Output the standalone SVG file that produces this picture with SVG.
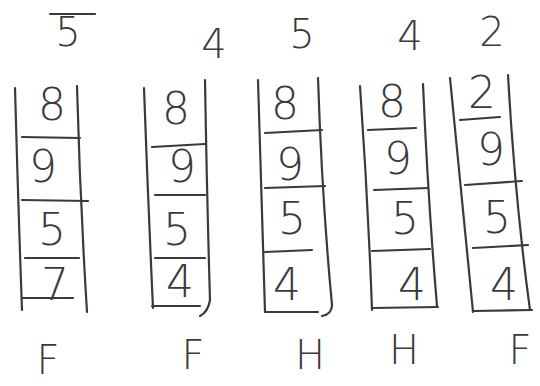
<svg xmlns="http://www.w3.org/2000/svg" width="540" height="386" viewBox="0 0 540 386">
<style>
.ln{fill:none;stroke:#3a3a3a;stroke-width:2.2;stroke-linecap:round;stroke-linejoin:round}
.t{font-family:"DejaVu Sans","Liberation Sans",sans-serif;font-weight:200;fill:#3a3a3a;text-anchor:middle}
.n{font-size:44px}
.h{font-size:40px}
</style>
<rect width="540" height="386" fill="#ffffff"/>
<g id="header">
<text class="t h" x="68" y="46">5</text>
<path class="ln" d="M50 14 L95 14"/>
<text class="t h" x="214" y="58">4</text>
<text class="t h" x="302" y="48">5</text>
<text class="t h" x="410" y="50">4</text>
<text class="t h" x="492" y="46">2</text>
</g>
<g id="frame1">
<path class="ln" d="M15 88 Q18 200 22 310"/>
<path class="ln" d="M77 86 Q80 200 87 312"/>
<path class="ln" d="M22 137 L80 138"/>
<path class="ln" d="M22 200 L88 201"/>
<path class="ln" d="M25 258 L79 258"/>
<path class="ln" d="M22 298 L73 298"/>
<text class="t n" x="52" y="120">8</text>
<text class="t n" x="43" y="182">9</text>
<text class="t n" x="52" y="245">5</text>
<text class="t n" x="55" y="300">7</text>
</g>
<g id="frame2">
<path class="ln" d="M144 88 Q148 200 153 308"/>
<path class="ln" d="M205 80 Q207 200 210 300 Q208 312 200 316"/>
<path class="ln" d="M152 147 L205 144"/>
<path class="ln" d="M155 195 L205 195"/>
<path class="ln" d="M155 258 L205 258"/>
<path class="ln" d="M152 306 L200 306"/>
<text class="t n" x="176" y="124">8</text>
<text class="t n" x="182" y="182">9</text>
<text class="t n" x="177" y="245">5</text>
<text class="t n" x="180" y="297">4</text>
</g>
<g id="frame3">
<path class="ln" d="M258 80 Q262 200 265 312"/>
<path class="ln" d="M318 78 Q322 200 332 305 Q332 314 322 316"/>
<path class="ln" d="M265 133 L322 130"/>
<path class="ln" d="M265 188 L325 186"/>
<path class="ln" d="M265 252 L312 250"/>
<path class="ln" d="M265 312 L318 312"/>
<text class="t n" x="285" y="119">8</text>
<text class="t n" x="290" y="180">9</text>
<text class="t n" x="292" y="234">5</text>
<text class="t n" x="287" y="300">4</text>
</g>
<g id="frame4">
<path class="ln" d="M360 86 Q368 200 372 310"/>
<path class="ln" d="M423 84 Q428 200 437 306"/>
<path class="ln" d="M368 130 L416 128"/>
<path class="ln" d="M374 190 L428 188"/>
<path class="ln" d="M372 251 L430 249"/>
<path class="ln" d="M372 308 L438 307"/>
<text class="t n" x="392" y="117">8</text>
<text class="t n" x="398" y="174">9</text>
<text class="t n" x="405" y="234">5</text>
<text class="t n" x="412" y="300">4</text>
</g>
<g id="frame5">
<path class="ln" d="M450 78 Q462 200 473 312"/>
<path class="ln" d="M508 75 Q515 200 530 310"/>
<path class="ln" d="M460 120 L500 117"/>
<path class="ln" d="M465 185 L522 181"/>
<path class="ln" d="M473 248 L528 245"/>
<path class="ln" d="M474 311 L532 310"/>
<text class="t n" x="482" y="108">2</text>
<text class="t n" x="491" y="165">9</text>
<text class="t n" x="497" y="233">5</text>
<text class="t n" x="504" y="300">4</text>
</g>
<g id="labels">
<text class="t h" x="48" y="374">F</text>
<text class="t h" x="193" y="369">F</text>
<text class="t h" x="310" y="369">H</text>
<text class="t h" x="404" y="364">H</text>
<text class="t h" x="520" y="364">F</text>
</g>
</svg>
